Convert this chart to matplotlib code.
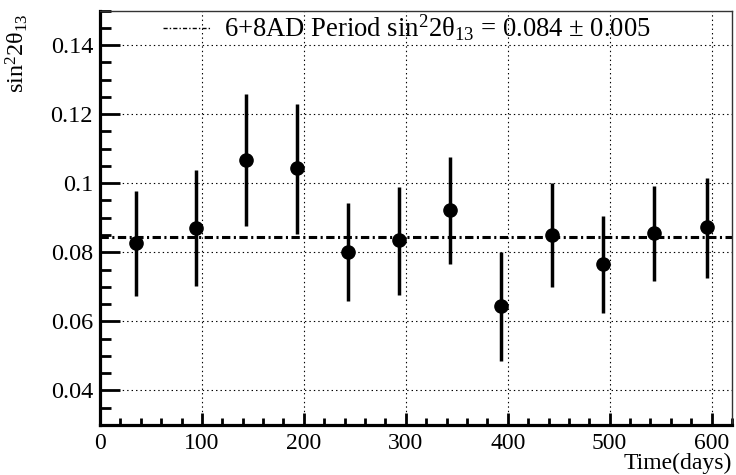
import matplotlib
matplotlib.use("Agg")
import matplotlib.pyplot as plt
from matplotlib.lines import Line2D
from matplotlib.ticker import MultipleLocator

plt.rcParams['font.family'] = ['Liberation Serif', 'DejaVu Serif']
plt.rcParams['mathtext.fontset'] = 'custom'
plt.rcParams['mathtext.rm'] = 'Liberation Serif'
plt.rcParams['mathtext.it'] = 'Liberation Serif:italic'
plt.rcParams['lines.scale_dashes'] = False

# data
days = [35, 94, 143, 193, 243, 293, 343, 393, 443, 493, 543, 595]
s2t = [0.0827, 0.0869, 0.1068, 0.1044, 0.0802, 0.0836, 0.0922, 0.0645, 0.0850, 0.0765, 0.0857, 0.0872]
s2t_hi = [0.0978, 0.1037, 0.1258, 0.1229, 0.0942, 0.0990, 0.1076, 0.0802, 0.1000, 0.0904, 0.0993, 0.1015]
s2t_lo = [0.0673, 0.0701, 0.0875, 0.0853, 0.0658, 0.0677, 0.0766, 0.0486, 0.0699, 0.0623, 0.0718, 0.0727]
fit_value = 0.0843
legend_label = '6+8AD Period sin$^{2}$2θ$_{13}$ = 0.084 ± 0.005'

err_lo = [v - l for v, l in zip(s2t, s2t_lo)]
err_hi = [h - v for v, h in zip(s2t, s2t_hi)]

fig = plt.figure(figsize=(7.36, 4.75), dpi=100)
ax = fig.add_axes([100/736, 50/475, 632/736, 414.5/475])

dd = (0, (6, 2.5, 1.5, 2.5))
ax.axhline(fit_value, color='k', lw=2.2, linestyle=dd, zorder=2)
ax.errorbar(days, s2t, yerr=[err_lo, err_hi], fmt='o', color='k',
            ms=9.5, elinewidth=2.5, capsize=0, zorder=3)

ax.set_xlim(0, 620)
ax.set_ylim(0.03, 0.15)
ax.xaxis.set_major_locator(MultipleLocator(100))
ax.xaxis.set_minor_locator(MultipleLocator(20))
ax.yaxis.set_minor_locator(MultipleLocator(0.005))
ax.set_yticks([0.04, 0.06, 0.08, 0.1, 0.12, 0.14])
ax.set_yticklabels(['0.04', '0.06', '0.08', '0.1', '0.12', '0.14'])

ax.grid(True, which='major', color='k', lw=0.8, linestyle=(0, (1, 2.2)))
ax.set_axisbelow(True)

ax.tick_params(axis='y', which='major', direction='in', length=14.4, width=2.0,
               labelsize=17.5, pad=5)
ax.tick_params(axis='y', which='minor', direction='in', length=7.7, width=2.0)
ax.tick_params(axis='x', which='major', direction='in', length=8.6, width=2.0,
               labelsize=17, pad=6)
ax.tick_params(axis='x', which='minor', direction='in', length=5, width=2.0)

for s in ['left', 'bottom']:
    ax.spines[s].set_linewidth(2.3)
for s in ['top', 'right']:
    ax.spines[s].set_linewidth(1.0)
    ax.spines[s].set_color('#333333')

ax.set_xlabel('Time(days)', fontsize=17, loc='right', labelpad=0)
ax.xaxis.set_label_coords(1.0, -0.066)
ax.xaxis.label.set_va('top')
ax.set_ylabel('sin$^{2}$2θ$_{13}$', fontsize=17.5, loc='top')
ax.yaxis.set_label_coords(-0.11, 0.993)

handle = Line2D([], [], color='k', lw=1.0, linestyle=(0, (3, 1.5, 1, 1.5)))
fig.legend([handle], [legend_label], loc='center left',
           bbox_to_anchor=(163/736, 1 - 28/475), frameon=False,
           fontsize=19.2, handlelength=1.8, handletextpad=0.5,
           borderpad=0, borderaxespad=0)

fig.savefig('out.png', dpi=100)
